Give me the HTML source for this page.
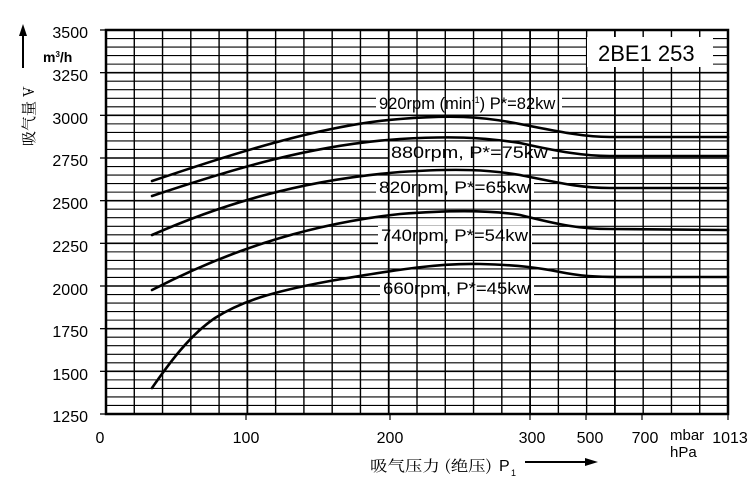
<!DOCTYPE html>
<html><head><meta charset="utf-8"><style>
html,body{margin:0;padding:0;background:#fff;width:756px;height:485px;overflow:hidden}
svg{display:block}
text{font-family:"Liberation Sans",Arial,sans-serif;fill:#000}
.cjk{font-family:"Noto Serif CJK SC","Noto Sans CJK SC",serif}
</style></head><body>
<svg id="s" width="756" height="485" viewBox="0 0 756 485" xmlns="http://www.w3.org/2000/svg">
<g id="h"></g>
<g fill="#fff">
<rect x="376" y="93" width="186" height="20"/>
<rect x="388" y="143" width="164" height="19"/>
<rect x="376" y="178" width="158" height="19"/>
<rect x="378" y="226" width="154" height="19"/>
<rect x="380" y="279" width="154" height="19"/>
</g>
<g id="v"></g>
<rect x="587" y="37" width="126" height="30" fill="#fff"/>
<rect x="106" y="30" width="622" height="384" fill="none" stroke="#000" stroke-width="2.5"/>
<g fill="none" stroke="#000" stroke-width="2.6" stroke-linecap="round">
<path d="M152,181 C230,155 320,125 400,119 C450,115 480,116 520,124 C560,132 585,137 610,137 L728,137"/>
<path d="M152,196 C230,170 310,145 400,139 C450,136 480,137 520,143 C560,152 585,156 610,156 L728,156"/>
<path d="M152,235 C220,205 300,180 400,172 C460,168 490,170 520,175 C560,183 580,188 610,188 L728,188"/>
<path d="M152,290 C220,255 300,225 400,214 C450,210 490,210 520,215 C560,225 580,229 610,229 L728,230"/>
<path d="M152,388 C170,362 190,335 215,318 C240,302 270,292 330,281 C400,269 440,263 480,264 C520,265 540,268 560,272 C580,276 595,277 620,277 L728,277"/>
</g>
<g font-size="16.5">
<text x="379" y="109">920rpm (min<tspan font-size="9" dy="-6">-1</tspan><tspan dy="6">) P*=82kw</tspan></text>
<text x="391" y="158" textLength="157" lengthAdjust="spacingAndGlyphs">880rpm, P*=75kw</text>
<text x="379" y="193" textLength="151" lengthAdjust="spacingAndGlyphs">820rpm, P*=65kw</text>
<text x="381" y="241" textLength="147" lengthAdjust="spacingAndGlyphs">740rpm, P*=54kw</text>
<text x="383" y="294" textLength="147" lengthAdjust="spacingAndGlyphs">660rpm, P*=45kw</text>
</g>
<text x="598" y="61" font-size="22">2BE1 253</text>
<g font-size="16" text-anchor="end">
<text x="88" y="38">3500</text><text x="88" y="81">3250</text><text x="88" y="124">3000</text>
<text x="88" y="166">2750</text><text x="88" y="209">2500</text><text x="88" y="252">2250</text>
<text x="88" y="295">2000</text><text x="88" y="337">1750</text><text x="88" y="380">1500</text>
<text x="88" y="422">1250</text>
</g>
<g font-size="16" text-anchor="middle">
<text x="100" y="443">0</text><text x="246" y="443">100</text><text x="390" y="443">200</text>
<text x="532" y="443">300</text><text x="590" y="443">500</text><text x="645" y="443">700</text>
<text x="730" y="443">1013</text>
</g>
<text x="670" y="440" font-size="15">mbar</text>
<text x="670" y="457" font-size="15">hPa</text>
<text x="43" y="62" font-size="14" font-weight="bold">m<tspan font-size="8" dy="-5">3</tspan><tspan dy="5">/h</tspan></text>
<line x1="23" y1="68" x2="23" y2="34" stroke="#000" stroke-width="2"/>
<polygon points="23,24 19,36 27,36" fill="#000"/>
<text class="cjk" font-size="15" transform="translate(34,146) rotate(-90)">吸气量 V</text>
<text x="27" y="95" font-size="14" font-weight="bold">·</text>
<text class="cjk" x="370" y="471" font-size="15" textLength="122" lengthAdjust="spacingAndGlyphs">吸气压力 (绝压)</text>
<text x="499" y="471" font-size="16">P</text>
<text x="511" y="476" font-size="9">1</text>
<line x1="525" y1="462" x2="588" y2="462" stroke="#000" stroke-width="2"/>
<polygon points="598,462 585,458 585,466" fill="#000"/>
</svg>
<script>
var ns="http://www.w3.org/2000/svg";
var h=document.getElementById('h'),v=document.getElementById('v');
function L(g,x1,y1,x2,y2,w){var l=document.createElementNS(ns,'line');l.setAttribute('x1',x1);l.setAttribute('y1',y1);l.setAttribute('x2',x2);l.setAttribute('y2',y2);l.setAttribute('stroke','#000');l.setAttribute('stroke-width',w);g.appendChild(l);}
for(var i=0;i<=45;i++){var y=30+i*(384/45);L(h,106,y,728,y,i%5==0?1.6:1.1);if(i%5==0)L(h,100,y,106,y,1.3);}
for(var j=0;j<=22;j++){var x=106+j*(622/22);L(v,x,30,x,414,(j==5||j==10||j==15||j==18)?1.8:1.4);}
[246,390,530,586,642,728].forEach(function(x){L(v,x,414,x,420,1.2);});
</script>
</body></html>
